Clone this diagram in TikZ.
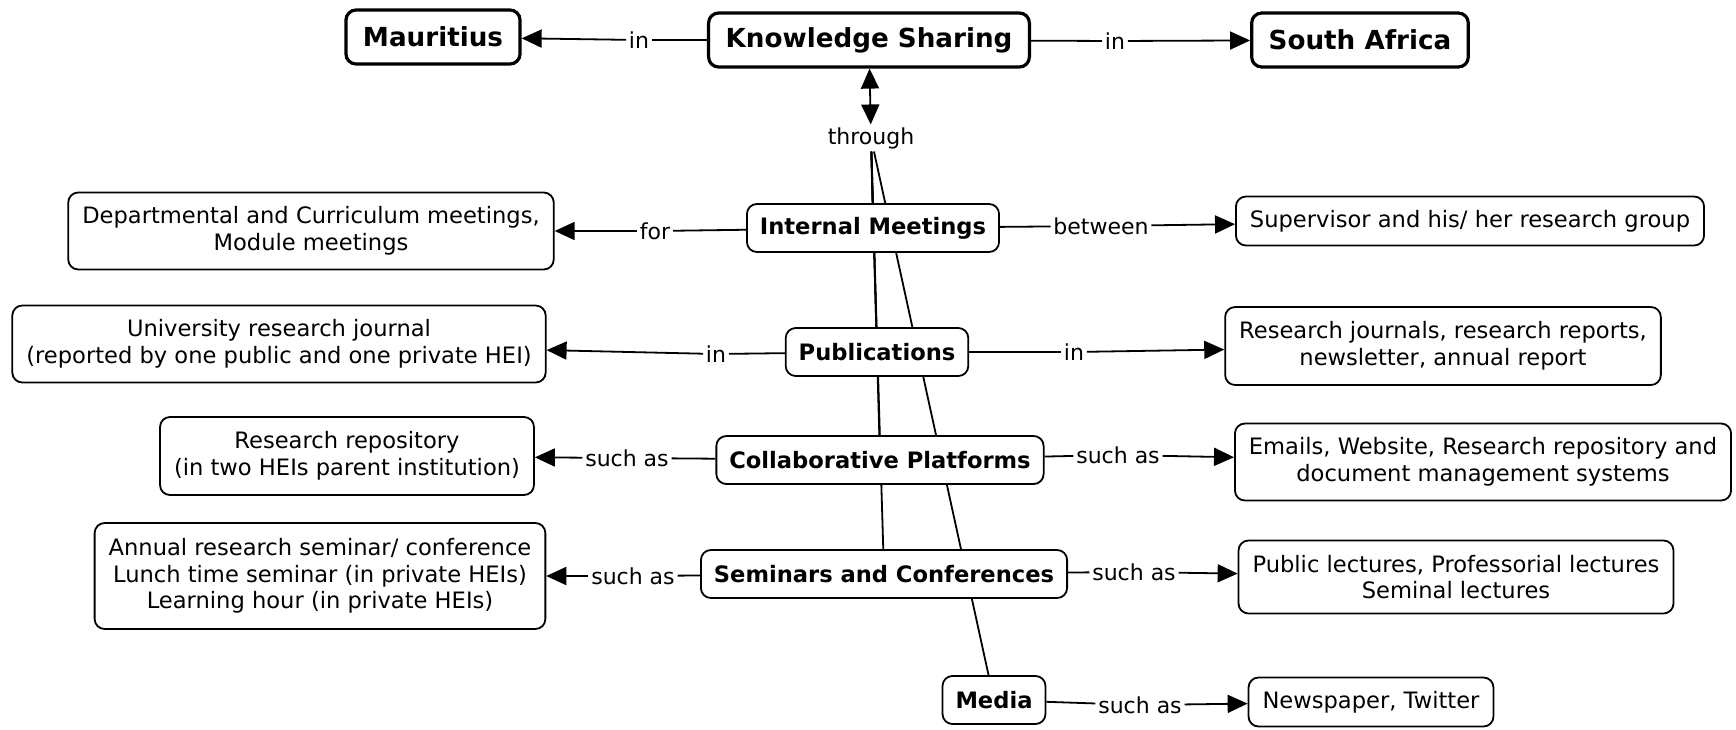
\documentclass[tikz,border=0pt]{standalone}
\usepackage{fontspec}
\setmainfont{DejaVu Sans}
\usetikzlibrary{arrows.meta,backgrounds}

\begin{document}
\begin{tikzpicture}[x=0.5pt, y=-0.5pt, line width=0.9pt,
top_style/.style={rectangle,rounded corners=5pt,draw=black,line width=1.6pt,fill=white,font=\fontsize{13.1}{15}\selectfont\bfseries,inner xsep=8.5pt,minimum height=27pt},
node_style/.style={rectangle,rounded corners=5pt,draw=black,fill=white,font=\fontsize{11.3}{13}\selectfont\bfseries,inner xsep=6.5pt,minimum height=24pt},
leaf_style/.style={rectangle,rounded corners=5pt,draw=black,fill=white,font=\fontsize{11.3}{13.3}\selectfont,align=center,inner xsep=7pt,minimum height=24.5pt},
link_style/.style={font=\fontsize{11}{13}\selectfont,inner sep=1pt},
edge_style/.style={draw=black, line width=0.9pt},
arrow_style/.style={draw=black, line width=0.9pt, -{Triangle[length=10pt,width=9pt]}}]
\useasboundingbox (0,0) rectangle (1736,729);

\node[top_style] (ks) at (869,40) {Knowledge Sharing};
\node[top_style] (mauritius) at (433,37) {Mauritius};
\node[top_style] (safrica) at (1360,40) {South Africa};
\node[link_style] (in_m) at (639,40) {in};
\node[link_style] (in_s) at (1115,41) {in};
\node[link_style] (through) at (871,138) {through};

\node[node_style] (meetings) at (873,228) {Internal Meetings};
\node[node_style] (publications) at (877,352) {Publications};
\node[node_style] (platforms) at (880,460) {Collaborative Platforms};
\node[node_style] (seminars) at (884,574) {Seminars and Conferences};
\node[node_style] (media) at (994,700) {Media};

\node[leaf_style, minimum height=38.5pt] (dept) at (311,231) {Departmental and Curriculum meetings,\\Module meetings};
\node[leaf_style] (supervisor) at (1470,221) {Supervisor and his/ her research group};
\node[leaf_style, minimum height=38.5pt] (univ) at (279,344) {University research journal\\(reported by one public and one private HEI)};
\node[leaf_style, minimum height=39pt] (journals) at (1443,346) {Research journals, research reports,\\newsletter, annual report};
\node[leaf_style, minimum height=39pt] (repository) at (347,456) {Research repository\\(in two HEIs parent institution)};
\node[leaf_style, minimum height=38.5pt] (emails) at (1483,462) {Emails, Website, Research repository and\\document management systems};
\node[leaf_style, minimum height=53pt] (annual) at (320,576) {Annual research seminar/ conference\\Lunch time seminar (in private HEIs)\\Learning hour (in private HEIs)};
\node[leaf_style, minimum height=36.5pt] (lectures) at (1456,577) {Public lectures, Professorial lectures\\Seminal lectures};
\node[leaf_style] (newspaper) at (1371,702) {Newspaper, Twitter};

\node[link_style] (for) at (655,231) {for};
\node[link_style] (between) at (1101,226) {between};
\node[link_style] (in_u) at (716,354) {in};
\node[link_style] (in_j) at (1074,352) {in};
\node[link_style] (such_r) at (627,458) {such as};
\node[link_style] (such_e) at (1118,455) {such as};
\node[link_style] (such_a) at (633,576) {such as};
\node[link_style] (such_l) at (1134,572) {such as};
\node[link_style] (such_n) at (1140,705) {such as};

\begin{scope}[on background layer]
\draw[edge_style] (through) -- (meetings);
\draw[edge_style] (through) -- (publications);
\draw[edge_style] (through) -- (platforms);
\draw[edge_style] (through) -- (seminars);
\draw[edge_style] (through) -- (media);
\end{scope}

\draw[draw=black, line width=0.9pt, {Triangle[length=10pt,width=9pt]}-{Triangle[length=10pt,width=9pt]}] (ks) -- (through);

\draw[edge_style] (ks) -- (in_m);
\draw[arrow_style] (in_m) -- (mauritius);
\draw[edge_style] (ks) -- (in_s);
\draw[arrow_style] (in_s) -- (safrica);

\draw[edge_style] (meetings) -- (for);
\draw[arrow_style] (for) -- (dept);
\draw[edge_style] (meetings) -- (between);
\draw[arrow_style] (between) -- (supervisor);

\draw[edge_style] (publications) -- (in_u);
\draw[arrow_style] (in_u) -- (univ);
\draw[edge_style] (publications) -- (in_j);
\draw[arrow_style] (in_j) -- (journals);

\draw[edge_style] (platforms) -- (such_r);
\draw[arrow_style] (such_r) -- (repository);
\draw[edge_style] (platforms) -- (such_e);
\draw[arrow_style] (such_e) -- (emails);

\draw[edge_style] (seminars) -- (such_a);
\draw[arrow_style] (such_a) -- (annual);
\draw[edge_style] (seminars) -- (such_l);
\draw[arrow_style] (such_l) -- (lectures);

\draw[edge_style] (media) -- (such_n);
\draw[arrow_style] (such_n) -- (newspaper);

\end{tikzpicture}
\end{document}
